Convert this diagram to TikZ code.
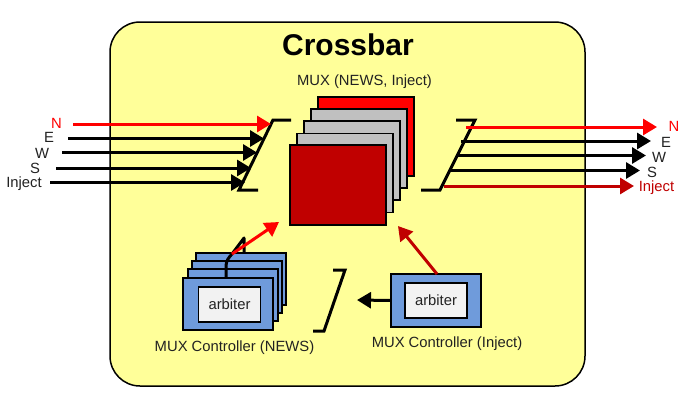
\documentclass[tikz,border=0pt]{standalone}
\usepackage{fontspec}
\setmainfont{Liberation Sans}
\usetikzlibrary{arrows.meta}
\definecolor{panelyellow}{HTML}{FFFF99}
\definecolor{ctrlblue}{HTML}{6F9BDB}
\definecolor{muxgray}{HTML}{C0C0C0}
\definecolor{muxdark}{HTML}{C00000}
\definecolor{arbfill}{HTML}{F2F2F2}
\definecolor{labelgray}{HTML}{222222}
\tikzset{
  x=1pt,y=-1pt,
  panel/.style={draw=black,line width=1.5pt,fill=panelyellow,rounded corners=30pt},
  muxbox/.style={draw=black,line width=1.5pt,minimum width=96pt,minimum height=79pt,inner sep=0pt,outer sep=0pt},
  ctrlbox/.style={draw=black,line width=1.5pt,fill=ctrlblue,minimum width=90pt,minimum height=52pt,inner sep=0pt,outer sep=0pt},
  arbbox/.style={draw=black,line width=1.5pt,fill=arbfill,minimum width=62pt,minimum height=35pt,inner sep=0pt,outer sep=0pt,font=\fontsize{14.8}{16}\selectfont,text=labelgray},
  lbl/.style={font=\fontsize{14.8}{16}\selectfont,text=labelgray,inner sep=0pt,yshift=-1pt},
  wire/.style={line width=3pt,-{Triangle[length=14pt,width=16pt]}},
  bus/.style={line width=3pt,black},
}
\begin{document}
\begin{tikzpicture}
\useasboundingbox (0,0) rectangle (691,400);
\fill[white] (0,0) rectangle (691,400);
\draw[panel] (110,22) rectangle (585,386);
\node[inner sep=0pt,font=\fontsize{30}{32}\selectfont\bfseries] (title) at (348,45) {Crossbar};
\node[lbl] (muxlabel) at (364.5,81) {MUX (NEWS, Inject)};
% MUX stack
\node[muxbox,fill=red] (m1) at (366,136.5) {};
\node[muxbox,fill=muxgray] (m2) at (359,148.5) {};
\node[muxbox,fill=muxgray] (m3) at (352,160.5) {};
\node[muxbox,fill=muxgray] (m4) at (345,173) {};
\node[muxbox,fill=muxdark,minimum height=80pt] (m5) at (338,185) {};
% left bus
\coordinate (la) at (291,120); \coordinate (lb) at (273,120);
\coordinate (lc) at (239,190); \coordinate (ld) at (258,190);
\draw[bus] (la) -- (lb) -- (lc) -- (ld);
% right bus
\coordinate (ra) at (456,120); \coordinate (rb) at (475,120);
\coordinate (rc) at (440,190); \coordinate (rd) at (421,190);
\draw[bus] (ra) -- (rb) -- (rc) -- (rd);
% left inputs
\coordinate (iN) at (73,124); \coordinate (iNe) at (271,124);
\coordinate (iE) at (68,138.5); \coordinate (iEe) at (264,138.5);
\coordinate (iW) at (62,152.5); \coordinate (iWe) at (257,152.5);
\coordinate (iS) at (56,168); \coordinate (iSe) at (251,168);
\coordinate (iI) at (50,182.5); \coordinate (iIe) at (245,182.5);
\draw[wire,black] (iE) -- (iEe);
\draw[wire,black] (iW) -- (iWe);
\draw[wire,black] (iS) -- (iSe);
\draw[wire,black] (iI) -- (iIe);
\draw[wire,red] (iN) -- (iNe);
\node[lbl,text=red] (lN) at (56.5,122) {N};
\node[lbl] (lE) at (49,136) {E};
\node[lbl] (lW) at (42,152) {W};
\node[lbl] (lS) at (35,167) {S};
\node[lbl] (lI) at (24,182.5) {Inject};
% right outputs
\coordinate (oN) at (466,127); \coordinate (oNe) at (657,127);
\coordinate (oE) at (461,141); \coordinate (oEe) at (651,141);
\coordinate (oW) at (456,155.5); \coordinate (oWe) at (646,155.5);
\coordinate (oS) at (450,170.5); \coordinate (oSe) at (640,170.5);
\coordinate (oI) at (444,186); \coordinate (oIe) at (634,186);
\draw[wire,black] (oE) -- (oEe);
\draw[wire,black] (oW) -- (oWe);
\draw[wire,black] (oS) -- (oSe);
\draw[wire,muxdark] (oI) -- (oIe);
\draw[wire,red] (oN) -- (oNe);
\node[lbl,text=red] (rN) at (674,125) {N};
\node[lbl] (rE) at (666,141) {E};
\node[lbl] (rW) at (659,156) {W};
\node[lbl] (rS) at (652,171) {S};
\node[lbl,text=muxdark] (rI) at (656.5,187) {Inject};
% controller stack
\node[ctrlbox] (c1) at (241,279) {};
\node[ctrlbox] (c2) at (237,287) {};
\node[ctrlbox] (c3) at (233,295) {};
\node[ctrlbox] (c4) at (228,304) {};
\node[arbbox] (a1) at (229.5,304.5) {arbiter};
\node[lbl] (c1label) at (234.5,346.5) {MUX Controller (NEWS)};
% controller bus
\coordinate (ca) at (226,278); \coordinate (cb) at (226,266);
\coordinate (cc) at (244,238); \coordinate (cd) at (244,253);
\draw[line width=3pt,line join=round] (ca) -- (cb) .. controls (226,261) and (229,257) .. (232,254) -- (cc) -- (cd);
\coordinate (cr) at (232,254); \coordinate (crt) at (279,222);
\draw[wire,red] (cr) -- (crt);
% lower bus
\coordinate (sa) at (333,270); \coordinate (sb) at (345,270);
\coordinate (sc) at (324,331); \coordinate (sd) at (313,331);
\draw[bus] (sa) -- (sb) -- (sc) -- (sd);
% inject controller
\node[ctrlbox,minimum height=53pt] (c5) at (436,300.5) {};
\node[arbbox] (a2) at (436,300.5) {arbiter};
\node[lbl] (c5label) at (447,343) {MUX Controller (Inject)};
\coordinate (ct) at (357,300);
\draw[wire,black] (c5.west) -- (ct);
\coordinate (cm) at (398,226); \coordinate (cu) at (437,274);
\draw[wire,muxdark] (cu) -- (cm);
\end{tikzpicture}
\end{document}
